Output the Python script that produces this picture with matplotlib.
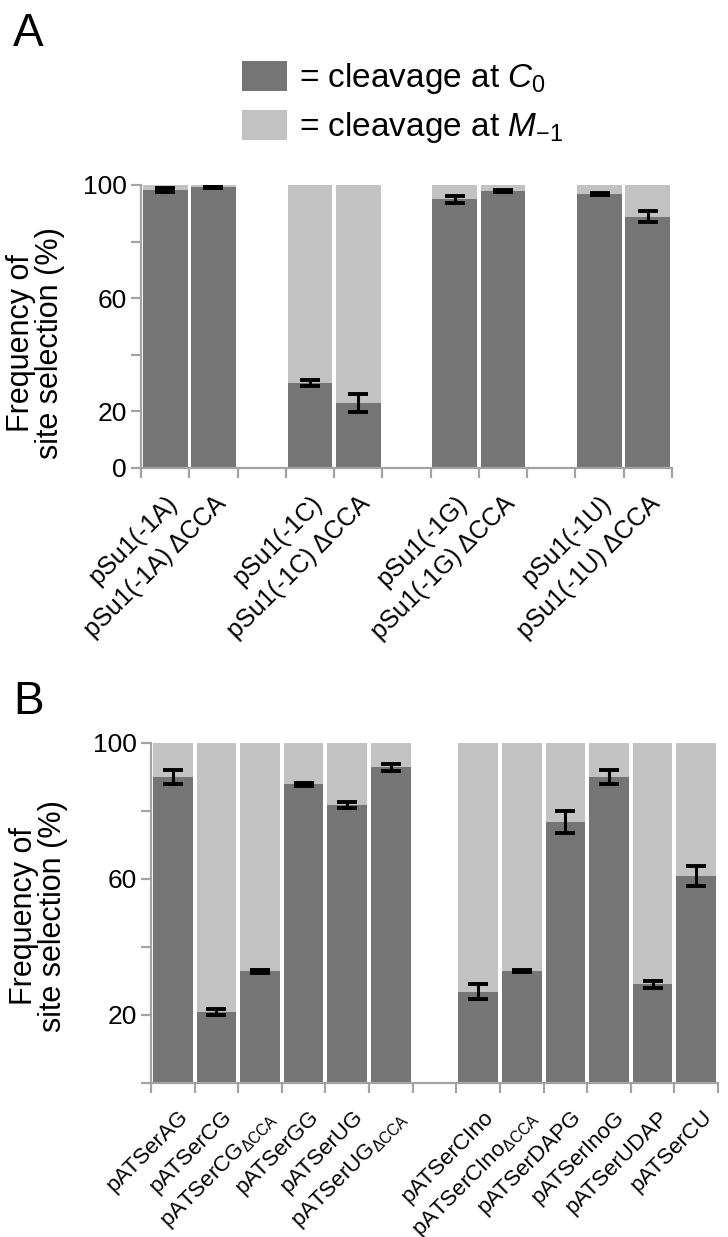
import numpy as np
import matplotlib
matplotlib.use("Agg")
import matplotlib.pyplot as plt
from matplotlib.patches import Patch
from matplotlib.transforms import ScaledTranslation

plt.rcParams["font.family"] = ["Liberation Sans", "DejaVu Sans"]
plt.rcParams["mathtext.fontset"] = "custom"
plt.rcParams["mathtext.rm"] = "Liberation Sans"
plt.rcParams["mathtext.it"] = "Liberation Sans:italic"
plt.rcParams["mathtext.default"] = "it"

DARK = "#757575"
LIGHT = "#c2c2c2"
AXC = "#a3a3a3"

# panel A data (% cleavage at C0, with error)
labels_a = ["pSu1(-1A)", "pSu1(-1A) ΔCCA", "pSu1(-1C)", "pSu1(-1C) ΔCCA",
            "pSu1(-1G)", "pSu1(-1G) ΔCCA", "pSu1(-1U)", "pSu1(-1U) ΔCCA"]
slots_a = [0, 1, 3, 4, 6, 7, 9, 10]
c0_a = [98.2, 99.2, 30.0, 22.9, 94.9, 98.0, 96.9, 88.8]
err_a = [0.7, 0.3, 1.2, 3.2, 1.3, 0.4, 0.4, 2.0]

# panel B data
labels_b = ["pATSerAG", "pATSerCG", r"pATSerCG$_{\mathregular{ΔCCA}}$", "pATSerGG",
            "pATSerUG", r"pATSerUG$_{\mathregular{ΔCCA}}$",
            "pATSerCIno", r"pATSerCIno$_{\mathregular{ΔCCA}}$", "pATSerDAPG",
            "pATSerInoG", "pATSerUDAP", "pATSerCU"]
slots_b = [0, 1, 2, 3, 4, 5, 7, 8, 9, 10, 11, 12]
c0_b = [89.9, 20.8, 32.8, 87.8, 81.8, 92.8, 26.9, 33.0, 76.7, 89.9, 29.0, 60.8]
err_b = [2.1, 0.9, 0.3, 0.3, 0.9, 1.0, 2.3, 0.3, 3.2, 2.1, 1.1, 3.0]

W, H = 728, 1237
fig = plt.figure(figsize=(W / 100, H / 100), dpi=100)

axA = fig.add_axes([141 / W, 1 - 468 / H, 531 / W, 283 / H])
axB = fig.add_axes([151 / W, 1 - 1083 / H, 567 / W, 340 / H])


def draw(ax, slots, c0, err, labels, nslots, major, minor, xfs, dx, bw):
    x = np.array(slots) + 0.5
    c0 = np.array(c0)
    ax.bar(x, c0, width=bw, color=DARK, linewidth=0)
    ax.bar(x, 100 - c0, bottom=c0, width=bw, color=LIGHT, linewidth=0)
    ax.errorbar(x, c0, yerr=err, fmt="none", ecolor="black", elinewidth=2.2,
                capsize=7, capthick=2.8)
    ax.set_xlim(0, nslots)
    ax.set_ylim(0, 100)
    for s in ["top", "right"]:
        ax.spines[s].set_visible(False)
    for s in ["left", "bottom"]:
        ax.spines[s].set_color(AXC)
        ax.spines[s].set_linewidth(1.6)
    ax.set_xticks(x)
    ax.set_xticks(np.arange(nslots + 1), minor=True)
    ax.set_xticklabels(labels, rotation=45, ha="right", rotation_mode="anchor",
                       fontsize=xfs)
    ax.tick_params(axis="x", which="major", length=0, pad=17)
    ax.tick_params(axis="x", which="minor", length=7, width=1.6, color=AXC)
    ax.set_yticks(major)
    ax.set_yticks(minor, minor=True)
    ax.set_yticklabels([str(v) for v in major], fontsize=19)
    ax.tick_params(axis="y", which="both", length=7, width=1.6, color=AXC, pad=3)
    for lab in ax.get_xticklabels():
        lab.set_transform(lab.get_transform() + ScaledTranslation(dx, 0, fig.dpi_scale_trans))
    ax.set_ylabel("Frequency of\nsite selection (%)", fontsize=22, linespacing=0.95)


draw(axA, slots_a, c0_a, err_a, labels_a, 11, [0, 20, 60, 100], [40, 80], 18, 0.0, 0.93)
draw(axB, slots_b, c0_b, err_b, labels_b, 13, [20, 60, 100], [0, 40, 80], 16, 0.05, 0.91)
axA.yaxis.set_label_coords(-0.143, 0.44)
axB.yaxis.set_label_coords(-0.146, 0.49)

fig.text(13 / W, 1 - 12 / H, "A", fontsize=33, va="top", ha="left")
fig.text(13 / W, 1 - 680 / H, "B", fontsize=33, va="top", ha="left")

handles = [Patch(facecolor=DARK, edgecolor="none"), Patch(facecolor=LIGHT, edgecolor="none")]
fig.legend(handles, [r"= cleavage at $C_{0}$", r"= cleavage at $M_{-1}$"],
           loc="upper left", bbox_to_anchor=(242 / W, 1 - 61 / H), frameon=False,
           fontsize=24, handlelength=1.35, handleheight=1.0, handletextpad=0.35,
           labelspacing=0.4, borderpad=0, borderaxespad=0)

fig.savefig("out.png", dpi=100)
